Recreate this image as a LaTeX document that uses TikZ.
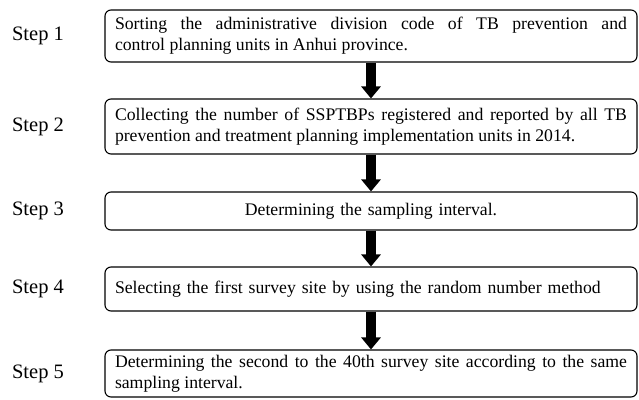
\documentclass[tikz,border=0pt]{standalone}
\usepackage{fontspec}
\setmainfont{Liberation Serif}
\usetikzlibrary{arrows.meta}
\begin{document}
\begin{tikzpicture}[x=1pt,y=-1pt,
  box/.style={draw,line width=1.1pt,rounded corners=6pt,text width=512pt,inner xsep=10pt,inner ysep=0pt,minimum width=532pt,align=justify,font=\fontsize{17.7}{21}\selectfont},
  steplabel/.style={font=\fontsize{20.5}{24}\selectfont,inner sep=0pt},
  flow/.style={line width=10pt,-{Triangle[width=19pt,length=12pt]}}]
\useasboundingbox (0,0) rectangle (639,399);
\node[box,minimum height=52pt] (b1) at (371,36) {Sorting the administrative division code of TB prevention and\linebreak control planning units in Anhui province.};
\node[box,minimum height=55pt] (b2) at (371,126.5) {Collecting the number of SSPTBPs registered and reported by all TB\linebreak prevention and treatment planning implementation units in 2014.};
\node[box,minimum height=38pt,align=center] (b3) at (371,211) {Determining the sampling interval.};
\node[box,minimum height=44pt,align=left] (b4) at (371,289) {Selecting the first survey site by using the random number method};
\node[box,minimum height=47pt] (b5) at (371,373.5) {Determining the second to the 40th survey site according to the same\linebreak sampling interval.};
\node[steplabel] (s1) at (38,36) {Step 1};
\node[steplabel] (s2) at (38,126.5) {Step 2};
\node[steplabel] (s3) at (38,211) {Step 3};
\node[steplabel] (s4) at (38,289) {Step 4};
\node[steplabel] (s5) at (38,373.5) {Step 5};
\draw[flow] (b1.south) -- (b2.north);
\draw[flow] (b2.south) -- (b3.north);
\draw[flow] (b3.south) -- (b4.north);
\draw[flow] (b4.south) -- (b5.north);
\end{tikzpicture}
\end{document}
